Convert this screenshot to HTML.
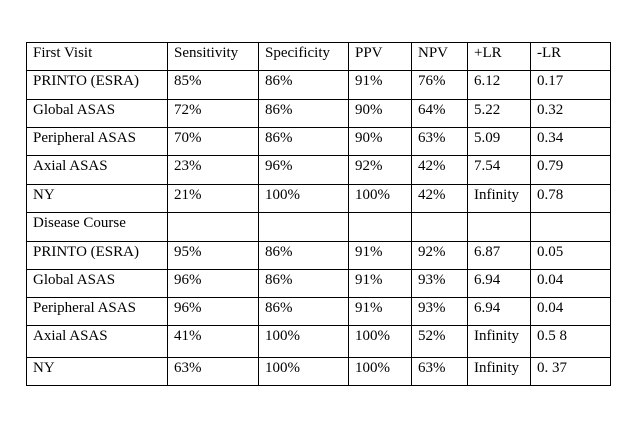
<!DOCTYPE html>
<html><head><meta charset="utf-8"><style>
body{margin:0;width:644px;height:437px;background:#fff;position:relative;overflow:hidden;font-family:"Liberation Serif",serif;font-size:15px;color:#000}
.h{position:absolute;height:1px;background:#000}
.v{position:absolute;width:1px;background:#000}
.t{position:absolute;white-space:nowrap;line-height:18px}
</style></head><body>
<div id="tbl"></div>
<script>
const cols=[26,167,258,348,411,467,530,610];
const rowsY=[42,70,99,127,155,184,212,241,269,297,325,357,385];
const rows=[
["First Visit","Sensitivity","Specificity","PPV","NPV","+LR","-LR"],
["PRINTO (ESRA)","85%","86%","91%","76%","6.12","0.17"],
["Global ASAS","72%","86%","90%","64%","5.22","0.32"],
["Peripheral ASAS","70%","86%","90%","63%","5.09","0.34"],
["Axial ASAS","23%","96%","92%","42%","7.54","0.79"],
["NY","21%","100%","100%","42%","Infinity","0.78"],
["Disease Course","","","","","",""],
["PRINTO (ESRA)","95%","86%","91%","92%","6.87","0.05"],
["Global ASAS","96%","86%","91%","93%","6.94","0.04"],
["Peripheral ASAS","96%","86%","91%","93%","6.94","0.04"],
["Axial ASAS","41%","100%","100%","52%","Infinity","0.5 8"],
["NY","63%","100%","100%","63%","Infinity","0. 37"]];
const tb=document.getElementById('tbl');
rowsY.forEach((y,i)=>{const d=document.createElement('div');d.className='h';


d.style.left=cols[0]+'px';d.style.top=y+'px';d.style.width=(cols[7]-cols[0]+1)+'px';tb.appendChild(d);});
cols.forEach(x=>{const d=document.createElement('div');d.className='v';


d.style.left=x+'px';d.style.top=rowsY[0]+'px';d.style.height=(rowsY[12]-rowsY[0]+1)+'px';tb.appendChild(d);});
rows.forEach((r,i)=>r.forEach((txt,j)=>{if(!txt)return;const d=document.createElement('div');d.className='t';


d.textContent=txt;d.style.left=(cols[j]+7)+'px';d.style.top=(rowsY[i]+2)+'px';tb.appendChild(d);}));
</script>
</body></html>
